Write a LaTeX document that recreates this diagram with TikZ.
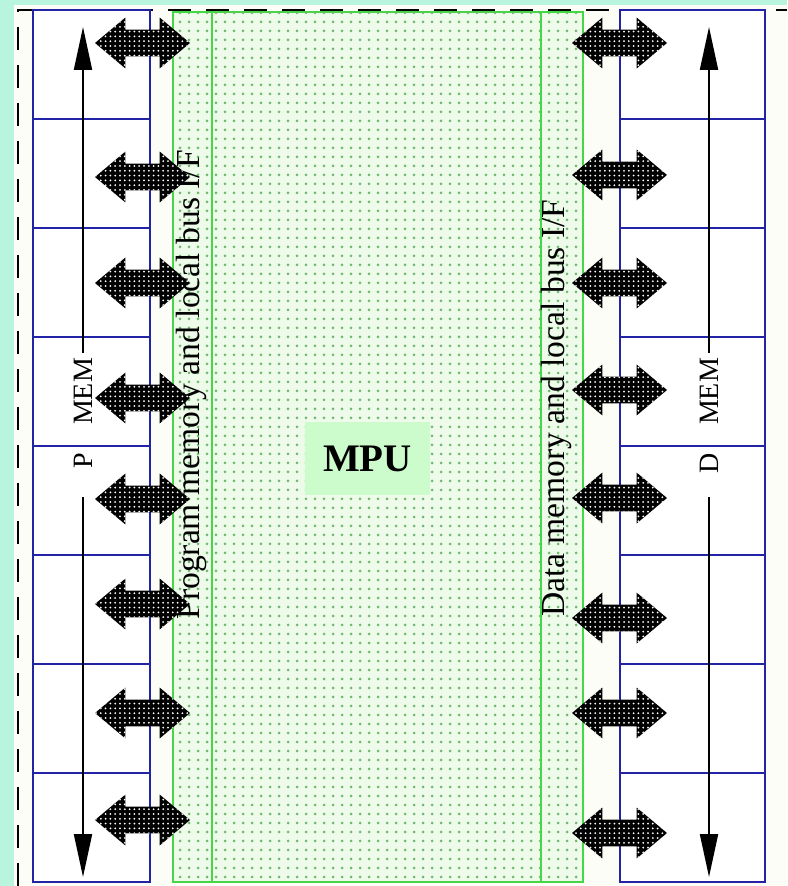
\documentclass[tikz,border=0pt]{standalone}
\usepackage{fontspec}
\setmainfont{Liberation Serif}
\usetikzlibrary{arrows.meta,positioning,shapes.arrows,patterns.meta}
\definecolor{BgMint}{RGB}{185,245,222}
\definecolor{PaperWhite}{RGB}{253,253,247}
\definecolor{MemBlue}{RGB}{35,35,165}
\definecolor{MpuGreen}{RGB}{70,215,70}
\definecolor{MpuFill}{RGB}{238,251,234}
\definecolor{MpuDot}{RGB}{110,185,110}
\definecolor{LabelGreen}{RGB}{204,252,204}

\begin{document}
\begin{tikzpicture}[x=0.5pt,y=-0.5pt,>=Latex,
 memcell/.style={draw=MemBlue,line width=0.8pt,fill=white,minimum height=54.5pt,inner sep=0pt,outer sep=0pt},
 busstrip/.style={draw=MpuGreen,line width=1pt,minimum height=435pt,inner sep=0pt},
 busarrow/.style={double arrow,fill=black,postaction={pattern={Dots[distance=2.4pt,radius=0.5pt]},pattern color=white},
  minimum height=47.5pt,inner xsep=0pt,inner ysep=6.5pt,double arrow head extend=6pt,double arrow tip angle=80},
 memarrow/.style={line width=1pt,-{Triangle[length=21.5pt,width=9pt]}},
 memlabel/.style={rotate=90,font=\fontsize{14}{14}\selectfont,text width=67pt,align=right,inner xsep=2.5pt,inner ysep=1pt},
 buslabel/.style={rotate=90,anchor=west,inner sep=0pt,font=\fontsize{16.8}{17}\selectfont}]
\useasboundingbox (0,0) rectangle (787,886);
\fill[BgMint] (0,0) rectangle (787,886);
\fill[PaperWhite] (14,5) rectangle (787,886);
% processor and its two bus interfaces
\node[draw=MpuGreen,line width=1pt,fill=MpuFill,postaction={pattern={Dots[distance=4.5pt,radius=0.75pt]},pattern color=MpuDot},
 minimum width=205pt,minimum height=435pt,inner sep=0pt] (mpu) at (378,447) {};
\node[busstrip,minimum width=19.5pt,anchor=north west] (pif) at (mpu.north west) {};
\node[busstrip,minimum width=21pt,anchor=north east] (dif) at (mpu.north east) {};
\draw[line width=1.2pt,dash pattern=on 11.5pt off 7.5pt] (18,886) -- (18,10) -- (787,10);
% memory columns
\node[memcell,minimum width=58.5pt] (pm1) at (91.5,64.5) {};
\foreach \i [remember=\i as \j (initially 1)] in {2,...,8}
 \node[memcell,minimum width=58.5pt,below=0pt of pm\j] (pm\i) {};
\node[memcell,minimum width=72.5pt] (dm1) at (692.5,64.5) {};
\foreach \i [remember=\i as \j (initially 1)] in {2,...,8}
 \node[memcell,minimum width=72.5pt,below=0pt of dm\j] (dm\i) {};
\node[buslabel] (pbuslabel) at (191,620) {Program memory and local bus I/F};
\node[buslabel] (dbuslabel) at (556,617) {Data memory and local bus I/F};
\node[fill=LabelGreen,minimum width=62.5pt,minimum height=36.5pt,font=\bfseries\fontsize{19.5}{19.5}\selectfont] (mpulabel) at (367.5,458.5) {MPU};
% bus arrows
\foreach \y [count=\k] in {43,177,283,398,499,604,713,820}
 \node[busarrow] (pbus\k) at (142.5,\y) {};
\foreach \y [count=\k] in {43,175,283,390,498,618,713,833}
 \node[busarrow] (dbus\k) at (619.5,\y) {};
% address direction
\node[memlabel] (pmemlabel) at (83,425) {P\quad MEM};
\coordinate (ptop) at (83,27);
\coordinate (pbot) at (83,877);
\draw[memarrow] (pmemlabel) -- (ptop);
\draw[memarrow] (pmemlabel) -- (pbot);
\node[memlabel] (dmemlabel) at (709,425) {D\quad MEM};
\coordinate (dtop) at (709,27);
\coordinate (dbot) at (709,877);
\draw[memarrow] (dmemlabel) -- (dtop);
\draw[memarrow] (dmemlabel) -- (dbot);
\end{tikzpicture}
\end{document}
